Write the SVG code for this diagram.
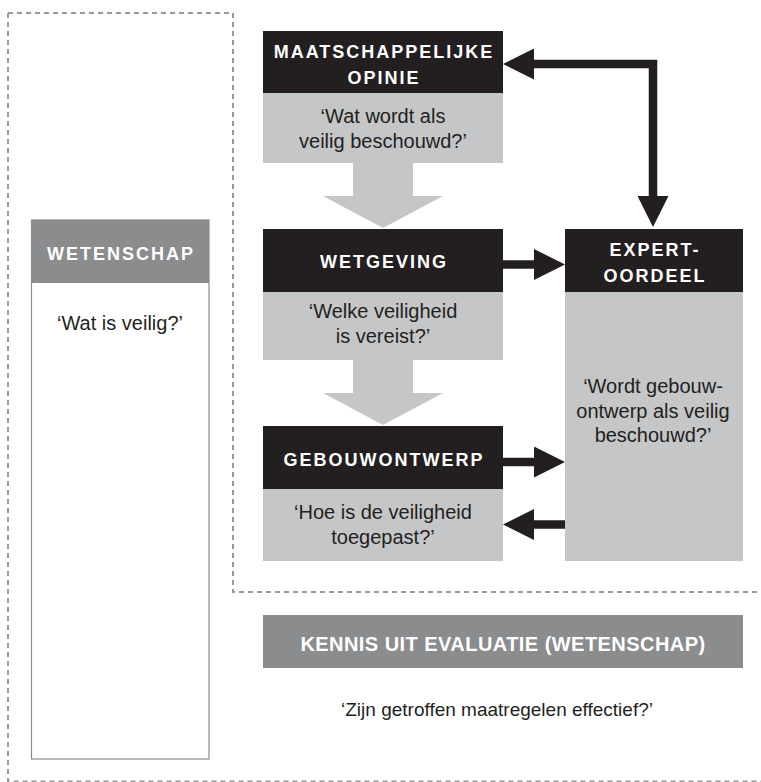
<svg xmlns="http://www.w3.org/2000/svg" width="761" height="782" viewBox="0 0 761 782">
  <style>
    .head { fill: #231f20; }
    .body { fill: #c5c6c8; }
    .mid { fill: #8b8c8e; }
    .ttl { font-family: "Liberation Sans", Arial, sans-serif; font-weight: bold; font-size: 18px; letter-spacing: 2px; fill: #ffffff; text-anchor: middle; }
    .txt { font-family: "Liberation Sans", Arial, sans-serif; font-size: 20px; fill: #231f20; text-anchor: middle; }
    .dash { fill: none; stroke: #98999b; stroke-width: 2; stroke-dasharray: 5 4; }
    .link { fill: none; stroke: #231f20; stroke-width: 8.5; stroke-linejoin: miter; }
    .flow { fill: #c5c6c8; }
  </style>
  <defs>
    <marker id="tip" viewBox="0 0 31 31" markerUnits="userSpaceOnUse" markerWidth="31" markerHeight="31" refX="2" refY="15.5" orient="auto-start-reverse">
      <path d="M0,0 L31,15.5 L0,31 Z" fill="#231f20"/>
    </marker>
  </defs>

  <!-- dashed frame around the process area -->
  <g id="frame">
    <path class="dash" d="M8,13 H233 V592 H761"/>
    <path class="dash" d="M8,13 V781.5 H761"/>
  </g>

  <!-- science column -->
  <g id="wetenschap">
    <rect x="31.5" y="220" width="177.5" height="539" fill="#ffffff" stroke="#8b8c8e" stroke-width="1.2"/>
    <rect class="mid" x="31.5" y="220" width="177.5" height="63"/>
    <text class="ttl" x="121" y="260">WETENSCHAP</text>
    <text class="txt" x="120" y="330">‘Wat is veilig?’</text>
  </g>

  <!-- wide grey flow arrows between the stacked boxes -->
  <g id="flow-arrows">
    <path class="flow" d="M353,162 H413 V196 H443 L383,228 L323,196 H353 Z"/>
    <path class="flow" d="M353,359 H413 V393 H443 L383,425 L323,393 H353 Z"/>
  </g>

  <g id="opinie">
    <rect class="head" x="263" y="31" width="240" height="62"/>
    <rect class="body" x="263" y="93" width="240" height="70"/>
    <text class="ttl" x="384" y="58">MAATSCHAPPELIJKE</text>
    <text class="ttl" x="384" y="84">OPINIE</text>
    <text class="txt" x="383" y="123">‘Wat wordt als</text>
    <text class="txt" x="383" y="148">veilig beschouwd?’</text>
  </g>

  <g id="wetgeving">
    <rect class="head" x="263" y="229" width="240" height="63"/>
    <rect class="body" x="263" y="292" width="240" height="68"/>
    <text class="ttl" x="384" y="268">WETGEVING</text>
    <text class="txt" x="383" y="318">‘Welke veiligheid</text>
    <text class="txt" x="383" y="343">is vereist?’</text>
  </g>

  <g id="gebouwontwerp">
    <rect class="head" x="263" y="426" width="240" height="63"/>
    <rect class="body" x="263" y="489" width="240" height="72"/>
    <text class="ttl" x="384" y="466">GEBOUWONTWERP</text>
    <text class="txt" x="383" y="519">‘Hoe is de veiligheid</text>
    <text class="txt" x="383" y="544">toegepast?’</text>
  </g>

  <g id="expertoordeel">
    <rect class="head" x="565" y="229" width="178" height="63"/>
    <rect class="body" x="565" y="292" width="178" height="269"/>
    <text class="ttl" x="655" y="256">EXPERT-</text>
    <text class="ttl" x="655" y="282">OORDEEL</text>
    <text class="txt" x="653" y="393">‘Wordt gebouw-</text>
    <text class="txt" x="653" y="417.5">ontwerp als veilig</text>
    <text class="txt" x="653" y="442">beschouwd?’</text>
  </g>

  <g id="evaluatie">
    <rect class="mid" x="263" y="615" width="480" height="53"/>
    <text class="ttl" x="503" y="651" style="font-size:20px;letter-spacing:0.45px">KENNIS UIT EVALUATIE (WETENSCHAP)</text>
    <text class="txt" x="497" y="716" style="font-size:19px">‘Zijn getroffen maatregelen effectief?’</text>
  </g>

  <!-- black connectors -->
  <g id="connectors">
    <path class="link" d="M532,64 H653 V198" marker-start="url(#tip)" marker-end="url(#tip)"/>
    <path class="link" d="M503,264.5 H536" marker-end="url(#tip)"/>
    <path class="link" d="M503,462 H536" marker-end="url(#tip)"/>
    <path class="link" d="M565,524.5 H532" marker-end="url(#tip)"/>
  </g>
</svg>
